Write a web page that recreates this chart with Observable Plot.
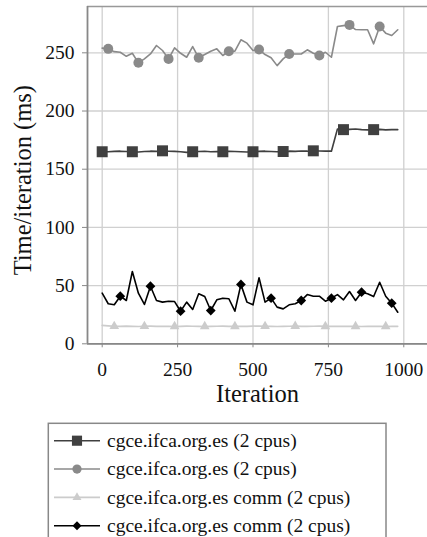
<!DOCTYPE html>
<html><head><meta charset="utf-8">
<script src="https://cdn.jsdelivr.net/npm/d3@7"></script>
<script src="https://cdn.jsdelivr.net/npm/@observablehq/plot@0.6"></script>
<style>
body{margin:0;background:#fff;font-family:"Liberation Serif",serif;}
#chart{position:absolute;left:0;top:0;}
#legend{position:absolute;left:0;top:0;}
</style></head><body>
<div id="chart"></div><div id="legend"></div>
<script>
const iterations = [0,20,40,60,80,100,120,140,160,180,200,220,240,260,280,300,320,340,360,380,400,420,440,460,480,500,520,540,560,580,600,620,640,660,680,700,720,740,760,780,800,820,840,860,880,900,920,940,960,980];
const seriesNames = ["cgce.ifca.org.es (2 cpus)","cgce.ifca.org.es (2 cpus)","cgce.ifca.org.es comm (2 cpus)","cgce.ifca.org.es comm (2 cpus)"];
const total1 = [165,165,165.3,165.5,165.2,165,164.8,165.2,165.5,165.3,165.8,165.5,165.3,165,164.5,165,165.2,165.4,165,165.2,165,165.3,165.2,165,164.8,165,165.3,165.5,165.2,165,165.2,165.5,165.3,165.6,165.5,165.8,165.6,165.5,165.5,184.5,184,184.2,184.5,184,183.8,184,184.2,183.8,184,184];
const total2 = [254,253.4,251,250.5,247,249.6,241.4,244.8,249,256.3,252,244.8,254.3,249.6,246.2,255.4,245.7,248.5,251.4,253.4,247.7,251.4,251.4,261.2,258.3,252,252.8,248.5,245.7,239,244.8,249,249,249,252.6,249.6,247.7,250.5,246.2,272.6,273.4,274,270,269.8,269.8,257.7,272.6,266.9,264.9,269.8];
const comm1 = [15.8,15.4,15.1,15,15.2,15,14.9,15.1,15.2,15,15,15.1,14.9,15,15.2,15.1,15,14.9,15,15.1,15.2,15,15,15.1,15,15.2,15.3,15.1,15,14.9,15,15.1,15.2,15,15,15.1,15.2,15,15.1,15,15,15.1,15,14.9,15,15.1,15,14.9,15,15];
const comm2 = [43.5,34.4,33.5,40.9,37.2,62.1,43.5,33.8,49.5,37.2,35.8,36.6,36.3,28,35.8,29.5,43,40.6,28.6,37.8,39.2,38.7,28,51,35.8,33.5,56.7,35.8,39.2,31.5,30,33.5,34.4,37.2,42.3,40.9,40.9,36.6,39.2,42.3,37.8,44.9,37.2,44.3,43,40.6,52.9,40.9,34.9,27.1];
const xTicks = [0,250,500,750,1000];
const yTicks = [0,50,100,150,200,250];

const FONT = "'Liberation Serif', serif";
const colors = ["#404040","#8a8a8a","#cccccc","#000000"];
const symbols = ["square","circle","triangle","diamond2"];
const radii = [6.2,5,3.6,4.4];
const allValues = [total1,total2,comm1,comm2];

const rows = [];
allValues.forEach((vals, s) => vals.forEach((v, i) => rows.push({iteration: iterations[i], value: v, s, i})));

const W = 427, H = 412, axisY0 = 343.3;
const xDom = [-48.7, 1078.6], yDom = [0, 289.8];
const marks = [
  Plot.gridX(xTicks, {stroke: "#d0d0d0", strokeOpacity: 1, strokeWidth: 1.3}),
  Plot.gridY(yTicks, {stroke: "#d0d0d0", strokeOpacity: 1, strokeWidth: 1.3}),
  Plot.ruleY([yDom[1]], {stroke: "#999", strokeWidth: 1.5}),
  Plot.ruleX([xDom[0]], {stroke: "#888", strokeWidth: 1.8}),
  Plot.ruleY([0], {stroke: "#888", strokeWidth: 1.8}),
];
[0,1,2,3].forEach(s => {
  const d = rows.filter(r => r.s === s);
  marks.push(Plot.line(d, {x: "iteration", y: "value", stroke: colors[s], strokeWidth: 1.6}));
  marks.push(Plot.dot(d.filter(r => r.i % 5 === s), {x: "iteration", y: "value", symbol: () => symbols[s], fill: colors[s], r: radii[s], stroke: "none"}));
});
marks.push(Plot.axisX(xTicks, {tickSize: 4, tickPadding: 14, fontSize: 19.5, label: null, stroke: "#888", tickFormat: d3.format("d"), fontFamily: FONT}));
marks.push(Plot.axisY(yTicks, {tickSize: 5, tickPadding: 8, fontSize: 19.5, label: null, stroke: "#888", tickFormat: d3.format("d"), fontFamily: FONT}));
marks.push(Plot.text(["Iteration"], {frameAnchor: "bottom", textAnchor: "middle", dy: 50, fontSize: 24.5, lineAnchor: "middle", fill: "#111", fontFamily: FONT}));
marks.push(Plot.text(["Time/iteration (ms)"], {frameAnchor: "left", textAnchor: "middle", dx: -64.5, dy: 5, rotate: -90, fontSize: 24.5, lineAnchor: "middle", fill: "#111", fontFamily: FONT}));

const chart = Plot.plot({
  width: W, height: H,
  marginLeft: 87, marginRight: 0, marginTop: 6, marginBottom: H - axisY0,
  style: {fontFamily: FONT, fontSize: "19px", background: "white", color: "#111", overflow: "visible"},
  x: {domain: xDom},
  y: {domain: yDom},
  symbol: {type: "identity"},
  marks
});
document.getElementById("chart").appendChild(chart);

// legend
const lg = d3.select("#legend").append("svg").attr("width", W).attr("height", 537)
  .style("font-family", FONT);
lg.append("rect").attr("x", 48.3).attr("y", 423.3).attr("width", 337.7).attr("height", 140)
  .attr("fill", "none").attr("stroke", "#888").attr("stroke-width", 1.5);
const symMap = {square: d3.symbolSquare, circle: d3.symbolCircle, triangle: d3.symbolTriangle, diamond2: d3.symbolDiamond2};
seriesNames.forEach((name, s) => {
  const cy = 440.7 + s * 28.33;
  const g = lg.append("g");
  g.append("line").attr("x1", 54).attr("x2", 100).attr("y1", cy).attr("y2", cy).attr("stroke", colors[s]).attr("stroke-width", 1.6);
  g.append("path").attr("transform", `translate(77,${cy})`).attr("d", d3.symbol(symMap[symbols[s]], Math.PI * radii[s] * radii[s] * 0.85)()).attr("fill", colors[s]);
  g.append("text").attr("x", 107).attr("y", cy).attr("dy", "0.33em").attr("font-size", 19.5).attr("fill", "#111").text(name);
});
</script>
</body></html>
